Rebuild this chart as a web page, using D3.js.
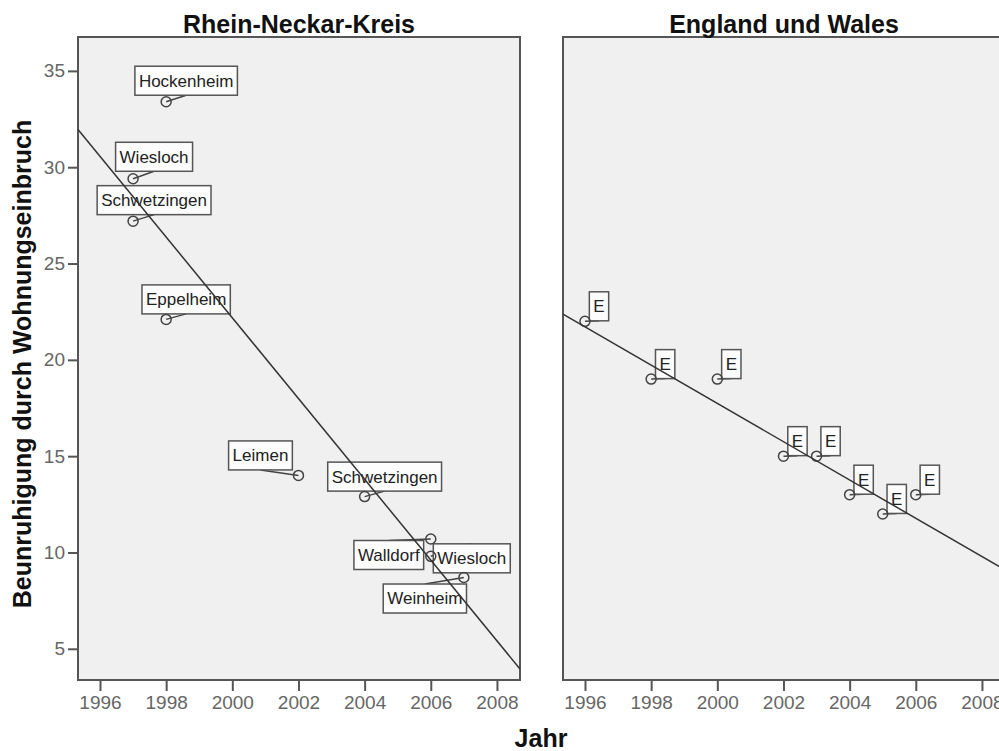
<!DOCTYPE html>
<html>
<head>
<meta charset="utf-8">
<script src="https://cdn.jsdelivr.net/npm/d3@7/dist/d3.min.js"></script>
<style>
    body { margin: 0; background: #fff; }
    svg { display: block; font-family: 'Liberation Sans', Arial, sans-serif; }
    .tick text { fill: #666; font-size: 19px; }
    .tick line { stroke: #555; stroke-width: 2; }
    .title { font-weight: bold; font-size: 25px; fill: #111; text-anchor: middle; }
    .label { font-size: 17px; fill: #222; }
</style>
</head>
<body>
<div id="myChart"></div>
<script>
// Rhein-Neckar-Kreis
let rnkYears = [1998, 1997, 1997, 1998, 2002, 2004, 2006, 2006, 2007];
let rnkValues = [33.4, 29.4, 27.2, 22.1, 14.0, 12.9, 10.7, 9.8, 8.7];
let rnkTowns = ['Hockenheim', 'Wiesloch', 'Schwetzingen', 'Eppelheim', 'Leimen',
    'Schwetzingen', 'Walldorf', 'Wiesloch', 'Weinheim'];

// England und Wales
let ewYears = [1996, 1998, 2000, 2002, 2003, 2004, 2005, 2006];
let ewValues = [22, 19, 19, 15, 15, 13, 12, 13];
let ewLabels = ['E', 'E', 'E', 'E', 'E', 'E', 'E', 'E'];

let panelTitles = ['Rhein-Neckar-Kreis', 'England und Wales'];
let xTicks = [1996, 1998, 2000, 2002, 2004, 2006, 2008];
let yTicks = [5, 10, 15, 20, 25, 30, 35];

// where each label box sits, relative to its point (px)
let rnkShift = [[20, -21], [21, -22], [21, -21], [20, -20], [-38, -20],
    [20, -20], [-42, 16], [41, 2], [-39, 21]];
let ewShift = ewYears.map(() => [14, -15]);

let width = 999, height = 751;
let panelW = 442, plotTop = 37, plotBottom = 680;
let panelLefts = [78, 563];

let svg = d3.select('#myChart')
    .append('svg')
    .attr('width', width)
    .attr('height', height);

let y = d3.scaleLinear().domain([3.38, 36.76]).range([plotBottom, plotTop]);

function fit(xs, ys) {
    let mx = d3.mean(xs), my = d3.mean(ys);
    let sxy = d3.sum(xs, (d, i) => (d - mx) * (ys[i] - my));
    let sxx = d3.sum(xs, (d) => (d - mx) * (d - mx));
    let b = sxy / sxx;
    return (v) => my + b * (v - mx);
}

let panels = [
    { years: rnkYears, values: rnkValues, labels: rnkTowns, shift: rnkShift },
    { years: ewYears, values: ewValues, labels: ewLabels, shift: ewShift },
];

panels.forEach((p, k) => {
    let x0 = panelLefts[k];
    let x = d3.scaleLinear().domain([1995.335, 2008.697]).range([x0, x0 + panelW]);
    let g = svg.append('g');

    g.append('rect')
        .attr('x', x0)
        .attr('y', plotTop)
        .attr('width', panelW)
        .attr('height', plotBottom - plotTop)
        .attr('fill', '#f0f0f0')
        .attr('stroke', '#555')
        .attr('stroke-width', 2);

    g.append('text')
        .attr('class', 'title')
        .attr('x', x0 + panelW / 2)
        .attr('y', 33)
        .text(panelTitles[k]);

    let xAxis = g.append('g')
        .attr('transform', 'translate(0,' + plotBottom + ')')
        .call(d3.axisBottom(x).tickValues(xTicks).tickFormat(d3.format('d'))
            .tickSize(11).tickPadding(5));
    xAxis.select('.domain').remove();

    if (k === 0) {
        let yAxis = g.append('g')
            .attr('transform', 'translate(' + x0 + ',0)')
            .call(d3.axisLeft(y).tickValues(yTicks).tickSize(10).tickPadding(3));
        yAxis.select('.domain').remove();
    }

    let pts = p.years.map((yr, i) => ({
        px: x(yr),
        py: y(p.values[i]),
        text: p.labels[i],
        cx: x(yr) + p.shift[i][0],
        cy: y(p.values[i]) + p.shift[i][1],
    }));

    // label boxes
    let lab = g.selectAll('.lab').data(pts).enter().append('g').attr('class', 'lab');
    let txt = lab.append('text')
        .attr('class', 'label')
        .attr('x', (d) => d.cx)
        .attr('y', (d) => d.cy)
        .attr('dy', '0.35em')
        .attr('text-anchor', 'middle')
        .text((d) => d.text);
    txt.each(function (d) {
        d.w = this.getComputedTextLength() + 8;
        d.h = 29;
    });

    lab.insert('line', 'text')
        .attr('x1', (d) => d.px)
        .attr('y1', (d) => d.py)
        .attr('x2', (d) => d.cx)
        .attr('y2', (d) => (d.py > d.cy ? d.cy + d.h / 2 : d.cy - d.h / 2))
        .attr('stroke', '#444')
        .attr('stroke-width', 1.5);

    lab.insert('rect', 'text')
        .attr('x', (d) => d.cx - d.w / 2)
        .attr('y', (d) => d.cy - d.h / 2)
        .attr('width', (d) => d.w)
        .attr('height', (d) => d.h)
        .attr('fill', '#fcfcfc')
        .attr('stroke', '#555')
        .attr('stroke-width', 1.5);

    g.selectAll('.pt')
        .data(pts)
        .enter()
        .append('circle')
        .attr('class', 'pt')
        .attr('cx', (d) => d.px)
        .attr('cy', (d) => d.py)
        .attr('r', 5)
        .attr('fill', 'none')
        .attr('stroke', '#444')
        .attr('stroke-width', 1.5);

    // linear fit line across the panel
    let f = fit(p.years, p.values);
    let [d0, d1] = x.domain();
    g.append('line')
        .attr('x1', x(d0))
        .attr('y1', y(f(d0)))
        .attr('x2', x(d1))
        .attr('y2', y(f(d1)))
        .attr('stroke', '#333')
        .attr('stroke-width', 1.5);
});

svg.append('text')
    .attr('class', 'title')
    .attr('x', 541)
    .attr('y', 747)
    .text('Jahr');

svg.append('text')
    .attr('class', 'title')
    .attr('transform', 'translate(31,364) rotate(-90)')
    .text('Beunruhigung durch Wohnungseinbruch');
</script>
</body>
</html>
